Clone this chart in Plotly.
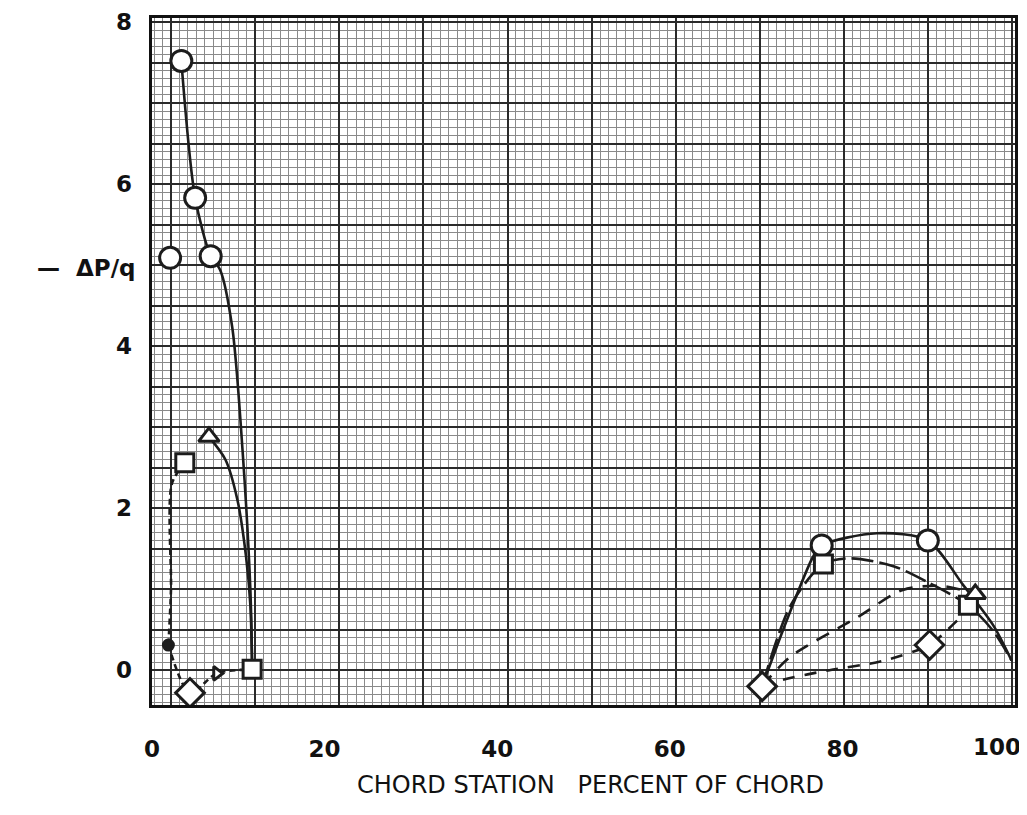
import plotly.graph_objects as go

# ---- tick labels ----
x_ticks = [0, 20, 40, 60, 80, 100]
y_ticks = [0, 2, 4, 6, 8]

# ---- plotted points ----
circle_x = [2.1, 3.4, 5.0, 6.8, 77.6, 89.9]
circle_y = [5.09, 7.52, 5.83, 5.11, 1.54, 1.60]

square_x = [3.8, 77.8, 94.6]
square_y = [2.56, 1.31, 0.80]

triangle_x = [6.6, 95.4]
triangle_y = [2.88, 0.94]

diamond_x = [4.4, 70.7, 90.1]
diamond_y = [-0.28, -0.20, 0.31]

end_x = [11.6]
end_y = [0.01]

dot_x = [1.9]
dot_y = [0.31]

flag_x = [7.5]
flag_y = [-0.04]

# ---- faired curves ----
c1_left_x = [3.4, 5.0, 6.8, 7.9, 9.3, 10.5, 11.4, 11.6]
c1_left_y = [7.52, 5.83, 5.11, 4.94, 4.23, 2.70, 0.99, 0.05]

c3_left_x = [6.6, 8.5, 9.9, 10.9, 11.4, 11.6]
c3_left_y = [2.88, 2.60, 2.10, 1.40, 0.80, 0.05]

c2_left_x = [3.8, 2.3, 2.2, 1.9]
c2_left_y = [2.56, 2.30, 1.00, 0.31]

c4_left_x = [1.9, 4.4, 7.5, 11.6]
c4_left_y = [0.31, -0.28, -0.04, 0.01]

c1_right_x = [70.7, 73.5, 76.6, 77.6, 84.0, 89.9, 94.0, 97.5, 99.6]
c1_right_y = [-0.20, 0.60, 1.40, 1.54, 1.69, 1.60, 1.05, 0.55, 0.12]

c2_right_x = [70.7, 74.0, 77.8, 81.0, 86.0, 90.0, 94.6, 97.5, 99.6]
c2_right_y = [-0.20, 0.80, 1.31, 1.38, 1.28, 1.08, 0.80, 0.48, 0.12]

c3_right_x = [70.7, 73.9, 81.7, 87.0, 91.5, 95.4]
c3_right_y = [-0.20, 0.16, 0.65, 0.99, 1.04, 0.94]

c4_right_x = [70.7, 73.0, 78.5, 84.5, 90.1, 92.1, 94.6]
c4_right_y = [-0.20, -0.12, 0.00, 0.11, 0.31, 0.49, 0.75]

INK = "#1c1c1c"

fig = go.Figure()


def curve(xs, ys, dash):
    fig.add_trace(go.Scatter(
        x=xs, y=ys, mode="lines",
        line=dict(color=INK, width=2.6, dash=dash, shape="spline", smoothing=0.8),
        showlegend=False, hoverinfo="skip"))


curve(c1_left_x, c1_left_y, "solid")
curve(c3_left_x, c3_left_y, "solid")
curve(c2_left_x, c2_left_y, "6px,4px")
curve(c4_left_x, c4_left_y, "6px,4px")
curve(c1_right_x, c1_right_y, "solid")
curve(c2_right_x, c2_right_y, "22px,6px")
curve(c3_right_x, c3_right_y, "14px,10px")
curve(c4_right_x, c4_right_y, "12px,10px")


def marks(xs, ys, symbol, size, fill="white"):
    fig.add_trace(go.Scatter(
        x=xs, y=ys, mode="markers",
        marker=dict(symbol=symbol, size=size, color=fill,
                    line=dict(color=INK, width=3)),
        showlegend=False))


marks(circle_x, circle_y, "circle", 21)
marks(square_x, square_y, "square", 18)
marks(triangle_x, triangle_y, "triangle-up", 18)
marks(diamond_x, diamond_y, "diamond", 22)
marks(end_x, end_y, "square", 18)
marks(dot_x, dot_y, "circle", 10, fill=INK)
marks(flag_x, flag_y, "triangle-right", 12)

# dummy trace for overlay label axes
fig.add_trace(go.Scatter(x=[None], y=[None], xaxis="x2", yaxis="y2",
                         showlegend=False, hoverinfo="skip"))

XR = [0, 100]
YR = [-0.43, 8.05]
TICKFONT = dict(family="DejaVu Sans", size=23, color="#111", weight="bold")

fig.update_layout(
    width=1027, height=815,
    margin=dict(l=144, r=20, t=10, b=118),
    paper_bgcolor="white", plot_bgcolor="white",
    font=dict(family="DejaVu Sans", color="#111"),
    xaxis=dict(
        range=XR, showticklabels=False, ticks="", zeroline=False, automargin=False,
        tick0=2.2, dtick=9.75, showgrid=True, gridcolor="#2a2a2a", gridwidth=2.2,
        minor=dict(tick0=2.2, dtick=0.975, showgrid=True, gridcolor="#8a8a8a", gridwidth=1.2),
        showline=True, linecolor="#111", linewidth=3, mirror=True),
    yaxis=dict(
        range=YR, showticklabels=False, ticks="", zeroline=False, automargin=False,
        tick0=0, dtick=0.5, showgrid=True, gridcolor="#2a2a2a", gridwidth=2.2,
        minor=dict(tick0=0, dtick=0.1, showgrid=True, gridcolor="#8a8a8a", gridwidth=1.2),
        showline=True, linecolor="#111", linewidth=3, mirror=True),
    xaxis2=dict(
        overlaying="x", anchor="y2", side="bottom", range=XR, automargin=False,
        tickmode="array", tickvals=x_ticks[:-1], ticktext=[str(v) for v in x_ticks[:-1]],
        ticks="", showgrid=False, zeroline=False, showline=False,
        ticklabelstandoff=28, ticklabeloverflow="allow", tickfont=TICKFONT),
    yaxis2=dict(
        overlaying="y", anchor="x2", side="left", range=YR, automargin=False,
        tickmode="array", tickvals=y_ticks, ticktext=[str(v) for v in y_ticks],
        ticks="", showgrid=False, zeroline=False, showline=False,
        ticklabelstandoff=19, ticklabeloverflow="allow", tickfont=TICKFONT),
    annotations=[
        # last x tick label, kept inside the page (right-aligned at the frame)
        dict(text=str(x_ticks[-1]), xref="x", yref="paper",
             x=x_ticks[-1], y=0, xanchor="right", yanchor="top",
             xshift=8, yshift=-27, showarrow=False, font=TICKFONT),
        dict(text="<b>—  ΔP/q</b>", xref="paper", yref="y",
             x=-0.136, y=4.96, xanchor="left", yanchor="middle",
             showarrow=False, font=dict(family="DejaVu Sans", size=23, color="#111")),
        dict(text="CHORD STATION   PERCENT OF CHORD", xref="paper", yref="paper",
             x=0.508, y=-0.117, xanchor="center", yanchor="middle",
             showarrow=False, font=dict(family="DejaVu Sans", size=24, color="#111")),
    ],
)

fig.write_html("out.html")
